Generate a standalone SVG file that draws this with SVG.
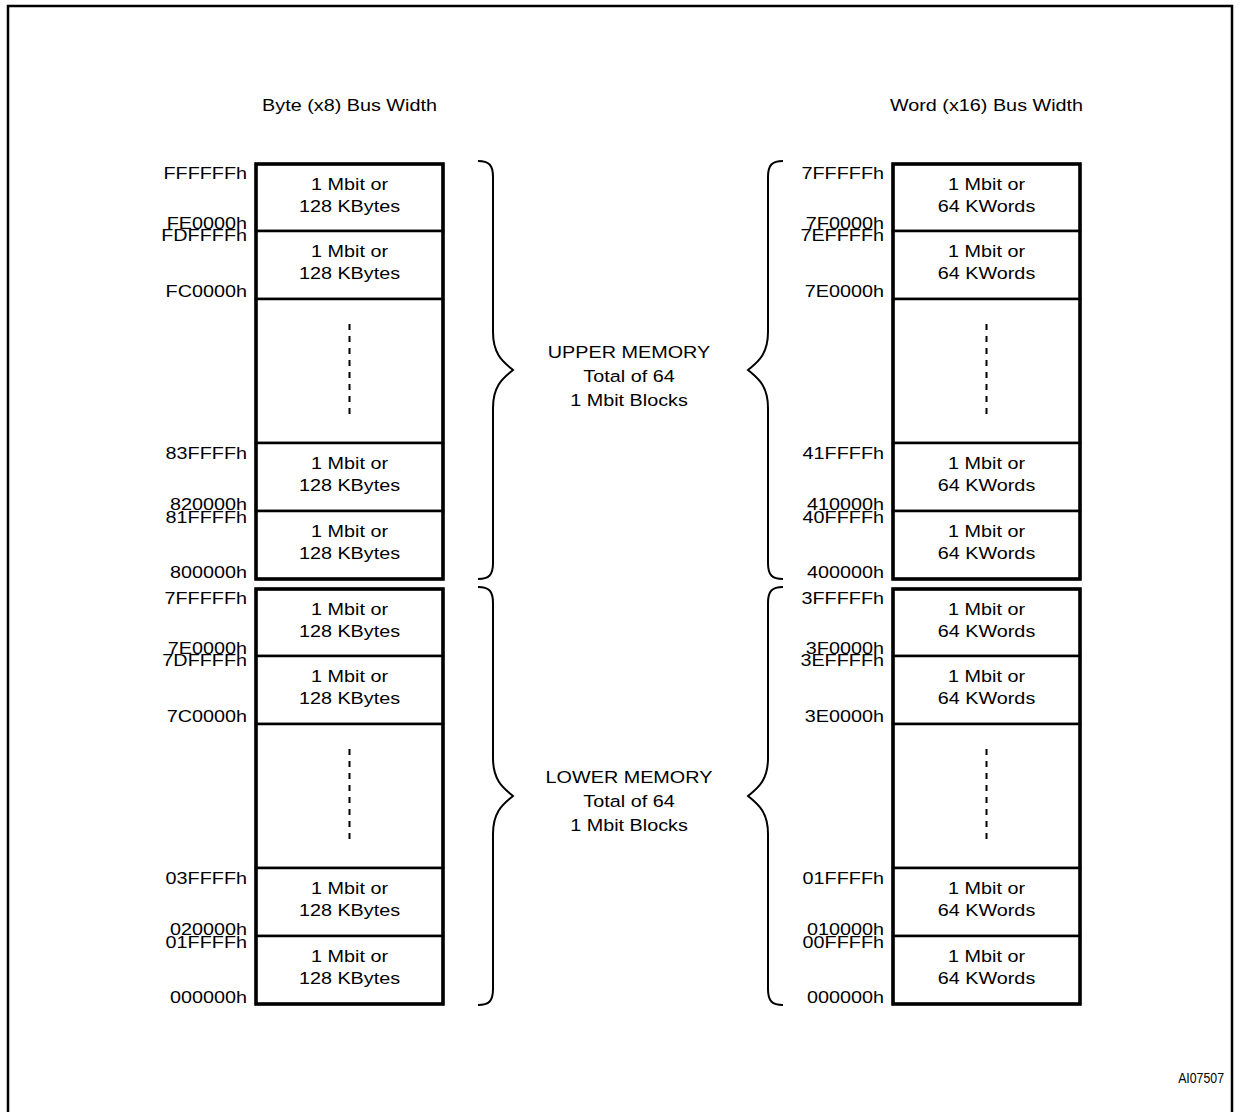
<svg xmlns="http://www.w3.org/2000/svg" width="1239" height="1112" viewBox="0 0 1239 1112">
<style>
.t{font-family:"Liberation Sans",Arial,sans-serif;font-size:16.5px;fill:#000}
.m{text-anchor:middle}
.e{text-anchor:end}
.blk{fill:#fff;stroke:#000;stroke-width:2.5}
.out{fill:none;stroke:#000;stroke-width:3.5}
.dot{stroke:#000;stroke-width:2;stroke-dasharray:6 6;fill:none}
.br{fill:none;stroke:#000;stroke-width:2}
.frame{fill:none;stroke:#000;stroke-width:2.5}
</style>
<rect width="1239" height="1112" fill="#fff"/>
<path class="frame" d="M8,1112 V6 H1232 V1112"/>

<g id="headers">
<text class="t m" transform="matrix(1.2 0 0 1 349.5 111)">Byte (x8) Bus Width</text>
<text class="t m" transform="matrix(1.2 0 0 1 986.5 111)">Word (x16) Bus Width</text>
</g>

<!-- LEFT UPPER -->
<g id="L-U-1"><rect class="blk" x="256" y="164" width="187" height="67"/>
<text class="t m" transform="matrix(1.2 0 0 1 349.5 190)">1 Mbit or</text>
<text class="t m" transform="matrix(1.2 0 0 1 349.5 212)">128 KBytes</text></g>
<g id="L-U-2"><rect class="blk" x="256" y="231" width="187" height="68"/>
<text class="t m" transform="matrix(1.2 0 0 1 349.5 257)">1 Mbit or</text>
<text class="t m" transform="matrix(1.2 0 0 1 349.5 279)">128 KBytes</text></g>
<g id="L-U-gap"><rect class="blk" x="256" y="299" width="187" height="144"/>
<line class="dot" x1="349.5" y1="324" x2="349.5" y2="414"/></g>
<g id="L-U-3"><rect class="blk" x="256" y="443" width="187" height="68"/>
<text class="t m" transform="matrix(1.2 0 0 1 349.5 469)">1 Mbit or</text>
<text class="t m" transform="matrix(1.2 0 0 1 349.5 491)">128 KBytes</text></g>
<g id="L-U-4"><rect class="blk" x="256" y="511" width="187" height="68"/>
<text class="t m" transform="matrix(1.2 0 0 1 349.5 537)">1 Mbit or</text>
<text class="t m" transform="matrix(1.2 0 0 1 349.5 559)">128 KBytes</text></g>
<rect class="out" x="256" y="164" width="187" height="415"/>

<!-- LEFT LOWER -->
<g id="L-L-1"><rect class="blk" x="256" y="589" width="187" height="67"/>
<text class="t m" transform="matrix(1.2 0 0 1 349.5 615)">1 Mbit or</text>
<text class="t m" transform="matrix(1.2 0 0 1 349.5 637)">128 KBytes</text></g>
<g id="L-L-2"><rect class="blk" x="256" y="656" width="187" height="68"/>
<text class="t m" transform="matrix(1.2 0 0 1 349.5 682)">1 Mbit or</text>
<text class="t m" transform="matrix(1.2 0 0 1 349.5 704)">128 KBytes</text></g>
<g id="L-L-gap"><rect class="blk" x="256" y="724" width="187" height="144"/>
<line class="dot" x1="349.5" y1="749" x2="349.5" y2="839"/></g>
<g id="L-L-3"><rect class="blk" x="256" y="868" width="187" height="68"/>
<text class="t m" transform="matrix(1.2 0 0 1 349.5 894)">1 Mbit or</text>
<text class="t m" transform="matrix(1.2 0 0 1 349.5 916)">128 KBytes</text></g>
<g id="L-L-4"><rect class="blk" x="256" y="936" width="187" height="68"/>
<text class="t m" transform="matrix(1.2 0 0 1 349.5 962)">1 Mbit or</text>
<text class="t m" transform="matrix(1.2 0 0 1 349.5 984)">128 KBytes</text></g>
<rect class="out" x="256" y="589" width="187" height="415"/>

<!-- RIGHT UPPER -->
<g id="R-U-1"><rect class="blk" x="893" y="164" width="187" height="67"/>
<text class="t m" transform="matrix(1.2 0 0 1 986.5 190)">1 Mbit or</text>
<text class="t m" transform="matrix(1.2 0 0 1 986.5 212)">64 KWords</text></g>
<g id="R-U-2"><rect class="blk" x="893" y="231" width="187" height="68"/>
<text class="t m" transform="matrix(1.2 0 0 1 986.5 257)">1 Mbit or</text>
<text class="t m" transform="matrix(1.2 0 0 1 986.5 279)">64 KWords</text></g>
<g id="R-U-gap"><rect class="blk" x="893" y="299" width="187" height="144"/>
<line class="dot" x1="986.5" y1="324" x2="986.5" y2="414"/></g>
<g id="R-U-3"><rect class="blk" x="893" y="443" width="187" height="68"/>
<text class="t m" transform="matrix(1.2 0 0 1 986.5 469)">1 Mbit or</text>
<text class="t m" transform="matrix(1.2 0 0 1 986.5 491)">64 KWords</text></g>
<g id="R-U-4"><rect class="blk" x="893" y="511" width="187" height="68"/>
<text class="t m" transform="matrix(1.2 0 0 1 986.5 537)">1 Mbit or</text>
<text class="t m" transform="matrix(1.2 0 0 1 986.5 559)">64 KWords</text></g>
<rect class="out" x="893" y="164" width="187" height="415"/>

<!-- RIGHT LOWER -->
<g id="R-L-1"><rect class="blk" x="893" y="589" width="187" height="67"/>
<text class="t m" transform="matrix(1.2 0 0 1 986.5 615)">1 Mbit or</text>
<text class="t m" transform="matrix(1.2 0 0 1 986.5 637)">64 KWords</text></g>
<g id="R-L-2"><rect class="blk" x="893" y="656" width="187" height="68"/>
<text class="t m" transform="matrix(1.2 0 0 1 986.5 682)">1 Mbit or</text>
<text class="t m" transform="matrix(1.2 0 0 1 986.5 704)">64 KWords</text></g>
<g id="R-L-gap"><rect class="blk" x="893" y="724" width="187" height="144"/>
<line class="dot" x1="986.5" y1="749" x2="986.5" y2="839"/></g>
<g id="R-L-3"><rect class="blk" x="893" y="868" width="187" height="68"/>
<text class="t m" transform="matrix(1.2 0 0 1 986.5 894)">1 Mbit or</text>
<text class="t m" transform="matrix(1.2 0 0 1 986.5 916)">64 KWords</text></g>
<g id="R-L-4"><rect class="blk" x="893" y="936" width="187" height="68"/>
<text class="t m" transform="matrix(1.2 0 0 1 986.5 962)">1 Mbit or</text>
<text class="t m" transform="matrix(1.2 0 0 1 986.5 984)">64 KWords</text></g>
<rect class="out" x="893" y="589" width="187" height="415"/>

<!-- ADDRESS LABELS -->
<g id="left-addresses">
<text class="t e" transform="matrix(1.2 0 0 1 247 179)">FFFFFFh</text>
<text class="t e" transform="matrix(1.2 0 0 1 247 229)">FE0000h</text>
<text class="t e" transform="matrix(1.2 0 0 1 247 241)">FDFFFFh</text>
<text class="t e" transform="matrix(1.2 0 0 1 247 297)">FC0000h</text>
<text class="t e" transform="matrix(1.2 0 0 1 247 459)">83FFFFh</text>
<text class="t e" transform="matrix(1.2 0 0 1 247 510)">820000h</text>
<text class="t e" transform="matrix(1.2 0 0 1 247 523)">81FFFFh</text>
<text class="t e" transform="matrix(1.2 0 0 1 247 578)">800000h</text>
<text class="t e" transform="matrix(1.2 0 0 1 247 604)">7FFFFFh</text>
<text class="t e" transform="matrix(1.2 0 0 1 247 654)">7E0000h</text>
<text class="t e" transform="matrix(1.2 0 0 1 247 666)">7DFFFFh</text>
<text class="t e" transform="matrix(1.2 0 0 1 247 722)">7C0000h</text>
<text class="t e" transform="matrix(1.2 0 0 1 247 884)">03FFFFh</text>
<text class="t e" transform="matrix(1.2 0 0 1 247 935)">020000h</text>
<text class="t e" transform="matrix(1.2 0 0 1 247 948)">01FFFFh</text>
<text class="t e" transform="matrix(1.2 0 0 1 247 1003)">000000h</text>
</g>
<g id="right-addresses">
<text class="t e" transform="matrix(1.2 0 0 1 884 179)">7FFFFFh</text>
<text class="t e" transform="matrix(1.2 0 0 1 884 229)">7F0000h</text>
<text class="t e" transform="matrix(1.2 0 0 1 884 241)">7EFFFFh</text>
<text class="t e" transform="matrix(1.2 0 0 1 884 297)">7E0000h</text>
<text class="t e" transform="matrix(1.2 0 0 1 884 459)">41FFFFh</text>
<text class="t e" transform="matrix(1.2 0 0 1 884 510)">410000h</text>
<text class="t e" transform="matrix(1.2 0 0 1 884 523)">40FFFFh</text>
<text class="t e" transform="matrix(1.2 0 0 1 884 578)">400000h</text>
<text class="t e" transform="matrix(1.2 0 0 1 884 604)">3FFFFFh</text>
<text class="t e" transform="matrix(1.2 0 0 1 884 654)">3F0000h</text>
<text class="t e" transform="matrix(1.2 0 0 1 884 666)">3EFFFFh</text>
<text class="t e" transform="matrix(1.2 0 0 1 884 722)">3E0000h</text>
<text class="t e" transform="matrix(1.2 0 0 1 884 884)">01FFFFh</text>
<text class="t e" transform="matrix(1.2 0 0 1 884 935)">010000h</text>
<text class="t e" transform="matrix(1.2 0 0 1 884 948)">00FFFFh</text>
<text class="t e" transform="matrix(1.2 0 0 1 884 1003)">000000h</text>
</g>

<!-- BRACES -->
<g id="connectors">
<path class="br" d="M478,161 C489,161 493,165 493,177 L493,332 C493,356 505,363 513,370 C505,377 493,384 493,408 L493,563 C493,575 489,579 478,579"/>
<path class="br" d="M478,587 C489,587 493,591 493,603 L493,758 C493,782 505,789 513,796 C505,803 493,810 493,834 L493,989 C493,1001 489,1005 478,1005"/>
<path class="br" d="M783,161 C772,161 768,165 768,177 L768,332 C768,356 756,363 748,370 C756,377 768,384 768,408 L768,563 C768,575 772,579 783,579"/>
<path class="br" d="M783,587 C772,587 768,591 768,603 L768,758 C768,782 756,789 748,796 C756,803 768,810 768,834 L768,989 C768,1001 772,1005 783,1005"/>
</g>

<g id="upper-memory-label">
<text class="t m" transform="matrix(1.2 0 0 1 629 358)">UPPER MEMORY</text>
<text class="t m" transform="matrix(1.2 0 0 1 629 382)">Total of 64</text>
<text class="t m" transform="matrix(1.2 0 0 1 629 406)">1 Mbit Blocks</text>
</g>
<g id="lower-memory-label">
<text class="t m" transform="matrix(1.2 0 0 1 629 783)">LOWER MEMORY</text>
<text class="t m" transform="matrix(1.2 0 0 1 629 807)">Total of 64</text>
<text class="t m" transform="matrix(1.2 0 0 1 629 831)">1 Mbit Blocks</text>
</g>

<text class="t e" style="font-size:14px" transform="matrix(0.88 0 0 1 1224 1083)">AI07507</text>
</svg>
